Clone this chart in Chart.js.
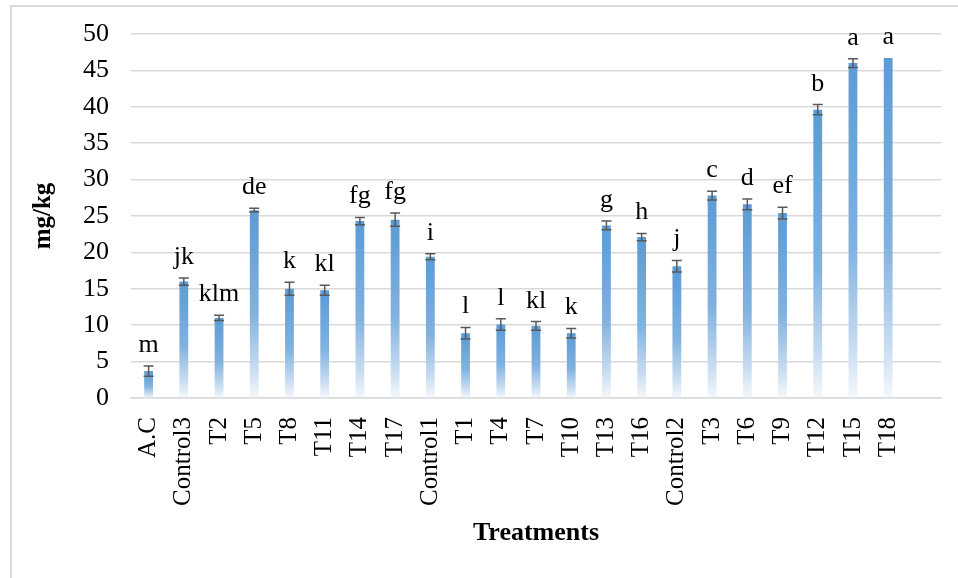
<!DOCTYPE html>
<html>
<head>
<meta charset="utf-8">
<script src="https://cdn.jsdelivr.net/npm/chart.js@4.4.1/dist/chart.umd.min.js"></script>
<style>
  body { margin: 0; background: #fff; }
  #wrap { position: relative; width: 958px; height: 578px; }
  #frame { position: absolute; left: 10px; top: 5px; width: 1000px; height: 1000px;
           border-left: 2px solid #d9d9d9; border-top: 2px solid #d9d9d9; }
  canvas { position: absolute; left: 0; top: 0; }
</style>
</head>
<body>
<div id="wrap">
  <div id="frame"></div>
  <canvas id="chart" width="958" height="578"></canvas>
</div>
<script>
//=========================================
// Data
//=========================================
let treatments = ["A.C", "Control3", "T2", "T5", "T8", "T11", "T14", "T17", "Control1",
                  "T1", "T4", "T7", "T10", "T13", "T16", "Control2", "T3", "T6", "T9",
                  "T12", "T15", "T18", ""];

let means = [3.7, 16.0, 11.0, 25.8, 15.0, 14.8, 24.3, 24.5, 19.4,
             8.9, 10.1, 9.9, 8.9, 23.7, 22.1, 18.1, 27.8, 26.6, 25.4,
             39.6, 46.0, 46.7];

let errors = [0.7, 0.5, 0.35, 0.25, 0.9, 0.7, 0.5, 0.9, 0.4,
              0.8, 0.8, 0.6, 0.65, 0.6, 0.5, 0.8, 0.6, 0.75, 0.8,
              0.7, 0.6, 0];

let letters = ["m", "jk", "klm", "de", "k", "kl", "fg", "fg", "i",
               "l", "l", "kl", "k", "g", "h", "j", "c", "d", "ef",
               "b", "a", "a"];

let yTicks = [0, 5, 10, 15, 20, 25, 30, 35, 40, 45, 50];

const serif = "'Liberation Serif', 'Times New Roman', serif";

//------------------------------------
// bar fill: blue at top fading to white at base
//------------------------------------
function barFill(ctx){
    let chart = ctx.chart;
    let y = chart.scales.y;
    let v = means[ctx.dataIndex];
    if(!chart.chartArea || !y || v == null) return "#5b9bd5";
    let top = y.getPixelForValue(v);
    let base = y.getPixelForValue(0);
    let g = chart.ctx.createLinearGradient(0, top, 0, base);
    g.addColorStop(0, "#5b9bd5");
    g.addColorStop(0.55, "#81b2df");
    g.addColorStop(0.85, "#c9ddf1");
    g.addColorStop(1, "#f4f8fc");
    return g;
}

//------------------------------------
// Error bars + significance letters
//------------------------------------
const errorBars = {
    id: "errorBars",
    afterDatasetsDraw(chart){
        let ctx = chart.ctx;
        let y = chart.scales.y;
        let meta = chart.getDatasetMeta(0);
        ctx.save();
        meta.data.forEach((bar, i) => {
            let e = errors[i];
            let hi = y.getPixelForValue(means[i] + e);
            if(e > 0){
                let lo = y.getPixelForValue(means[i] - e);
                ctx.strokeStyle = "#595959";
                ctx.lineWidth = 1.5;
                ctx.beginPath();
                ctx.moveTo(bar.x, hi); ctx.lineTo(bar.x, lo);
                ctx.moveTo(bar.x - 5, hi); ctx.lineTo(bar.x + 5, hi);
                ctx.moveTo(bar.x - 5, lo); ctx.lineTo(bar.x + 5, lo);
                ctx.stroke();
            }
            ctx.fillStyle = "#000";
            ctx.font = "26px " + serif;
            ctx.textAlign = "center";
            ctx.textBaseline = "alphabetic";
            ctx.fillText(letters[i], bar.x, hi - 14);
        });
        ctx.restore();
    }
};

window.addEventListener("load", function(){

    new Chart(document.getElementById("chart"), {
        type: "bar",
        data: {
            labels: treatments,
            datasets: [{
                data: means,
                backgroundColor: barFill,
                borderWidth: 0,
                barPercentage: 0.25,
                categoryPercentage: 1
            }]
        },
        options: {
            responsive: false,
            animation: false,
            layout: { padding: { top: 34, right: 17, bottom: 0, left: 0 } },
            plugins: { legend: { display: false }, tooltip: { enabled: false } },
            scales: {
                x: {
                    grid: { display: false, drawTicks: false },
                    border: { color: "#d9d9d9", width: 1.5 },
                    ticks: {
                        color: "#000",
                        font: { family: serif, size: 25 },
                        minRotation: 90, maxRotation: 90,
                        padding: 19,
                        autoSkip: false
                    },
                    title: {
                        display: true, text: "Treatments", color: "#000",
                        font: { family: serif, size: 26, weight: "bold" },
                        padding: { top: 0, bottom: 29 }
                    },
                    afterFit: s => {
                        s.height = 180;
                        s.paddingLeft = 0; s.paddingRight = 0;
                    }
                },
                y: {
                    min: 0, max: 50,
                    afterBuildTicks: s => { s.ticks = yTicks.map(v => ({ value: v })); },
                    grid: { color: "#d9d9d9", lineWidth: 1.5, drawTicks: false },
                    border: { display: false },
                    ticks: {
                        color: "#000",
                        font: { family: serif, size: 26 },
                        padding: 22
                    },
                    title: {
                        display: true, text: "mg/kg", color: "#000",
                        font: { family: serif, size: 25, weight: "bold" },
                        padding: { top: 29, bottom: 0 }
                    },
                    afterFit: s => {
                        s.width = 131;
                        s.paddingTop = 0; s.paddingBottom = 0;
                    }
                }
            }
        },
        plugins: [errorBars]
    });

});
</script>
</body>
</html>
